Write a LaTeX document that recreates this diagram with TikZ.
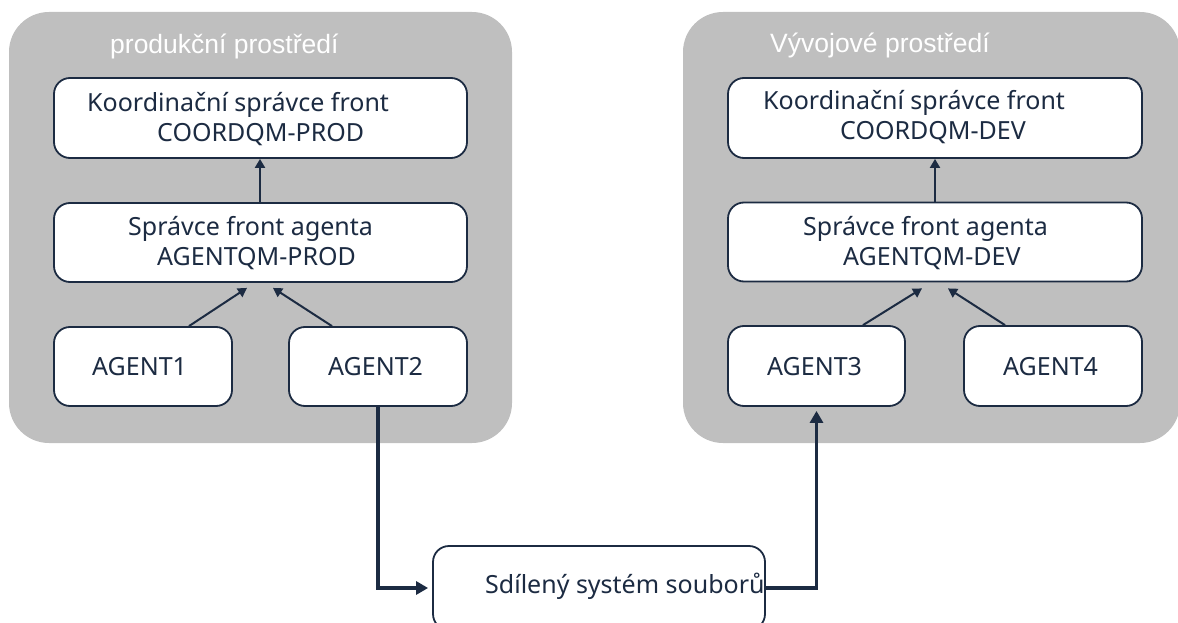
\documentclass[tikz,border=0pt]{standalone}
\usepackage{fontspec}
\setmainfont{Noto Sans}
\newfontfamily\titlefont{Liberation Sans}
\usetikzlibrary{arrows.meta,calc}
\definecolor{navy}{HTML}{1C2B42}
\definecolor{envgray}{HTML}{BFBFBF}
\tikzset{
  envbox/.style={fill=envgray, rounded corners=40pt, draw=none, inner sep=0pt},
  qmbox/.style={draw=navy, fill=white, line width=1.8pt, rounded corners=16pt, inner sep=0pt},
  lbl/.style={anchor=base west, text=navy, font=\fontsize{25}{29}\selectfont, inner sep=0pt},
  ttl/.style={anchor=base west, text=white, font=\titlefont\fontsize{26.5}{30}\selectfont, inner sep=0pt},
  thinarrow/.style={draw=navy, line width=2pt, -{Triangle[length=9pt,width=10pt]}},
  thickarrow/.style={draw=navy, line width=3.8pt, -{Triangle[length=12pt,width=13pt]}},
}
\begin{document}
\begin{tikzpicture}[x=1pt,y=-1pt]
\useasboundingbox (0,0) rectangle (1178,623);
\clip (0,0) rectangle (1178,623);
% environments
\node[envbox, minimum width=503pt, minimum height=431pt] (envL) at (260.5,227.5) {};
\node[envbox, minimum width=497pt, minimum height=431pt] (envR) at (931.5,227.5) {};
\node[ttl] (tL) at (110,54) {produkční prostředí};
\node[ttl] (tR) at (770,53) {Vývojové prostředí};
% left boxes
\node[qmbox, minimum width=413pt, minimum height=80pt] (coordL) at (260.5,118) {};
\node[qmbox, minimum width=413pt, minimum height=79pt] (aqmL) at (260.5,242.5) {};
\node[qmbox, minimum width=178pt, minimum height=79pt] (ag1) at (143,366.5) {};
\node[qmbox, minimum width=178pt, minimum height=79pt] (ag2) at (378,366.5) {};
% right boxes
\node[qmbox, minimum width=414pt, minimum height=80pt] (coordR) at (935,118) {};
\node[qmbox, minimum width=414pt, minimum height=79pt] (aqmR) at (935,242) {};
\node[qmbox, minimum width=177pt, minimum height=80pt] (ag3) at (816.5,366) {};
\node[qmbox, minimum width=178pt, minimum height=80pt] (ag4) at (1053,366) {};
% shared
\node[qmbox, minimum width=332pt, minimum height=84pt] (shared) at (599,588) {};
% labels
\node[lbl] (c1a) at (87,112) {Koordinační správce front};
\node[lbl] (c1b) at (157,142) {COORDQM-PROD};
\node[lbl] (a1a) at (128,235) {Správce front agenta};
\node[lbl] (a1b) at (157,265) {AGENTQM-PROD};
\node[lbl] (g1) at (92,375) {AGENT1};
\node[lbl] (g2) at (328,375) {AGENT2};
\node[lbl] (c2a) at (763,110) {Koordinační správce front};
\node[lbl] (c2b) at (840,140) {COORDQM-DEV};
\node[lbl] (a2a) at (803,235) {Správce front agenta};
\node[lbl] (a2b) at (843,265) {AGENTQM-DEV};
\node[lbl] (g3) at (767,375) {AGENT3};
\node[lbl] (g4) at (1003,375) {AGENT4};
\node[lbl] (sh) at (485,593) {Sdílený systém souborů};
% arrows
\draw[thinarrow] ([xshift=-0.5pt]aqmL.north) -- ([xshift=-0.5pt]coordL.south);
\draw[thinarrow] ([xshift=46pt]ag1.north) -- ([xshift=-13.5pt,yshift=-5pt]aqmL.south);
\draw[thinarrow] ([xshift=-46pt]ag2.north) -- ([xshift=12.5pt,yshift=-5pt]aqmL.south);
\draw[thinarrow] (aqmR.north) -- (coordR.south);
\draw[thinarrow] ([xshift=46.5pt]ag3.north) -- ([xshift=-13pt,yshift=-6pt]aqmR.south);
\draw[thinarrow] ([xshift=-48pt]ag4.north) -- ([xshift=13pt,yshift=-6pt]aqmR.south);
\draw[thickarrow, shorten >=4pt] (ag2.south) |- (shared.west);
\draw[thickarrow, shorten >=4pt] (shared.east) -| (ag3.south);
\end{tikzpicture}
\end{document}
